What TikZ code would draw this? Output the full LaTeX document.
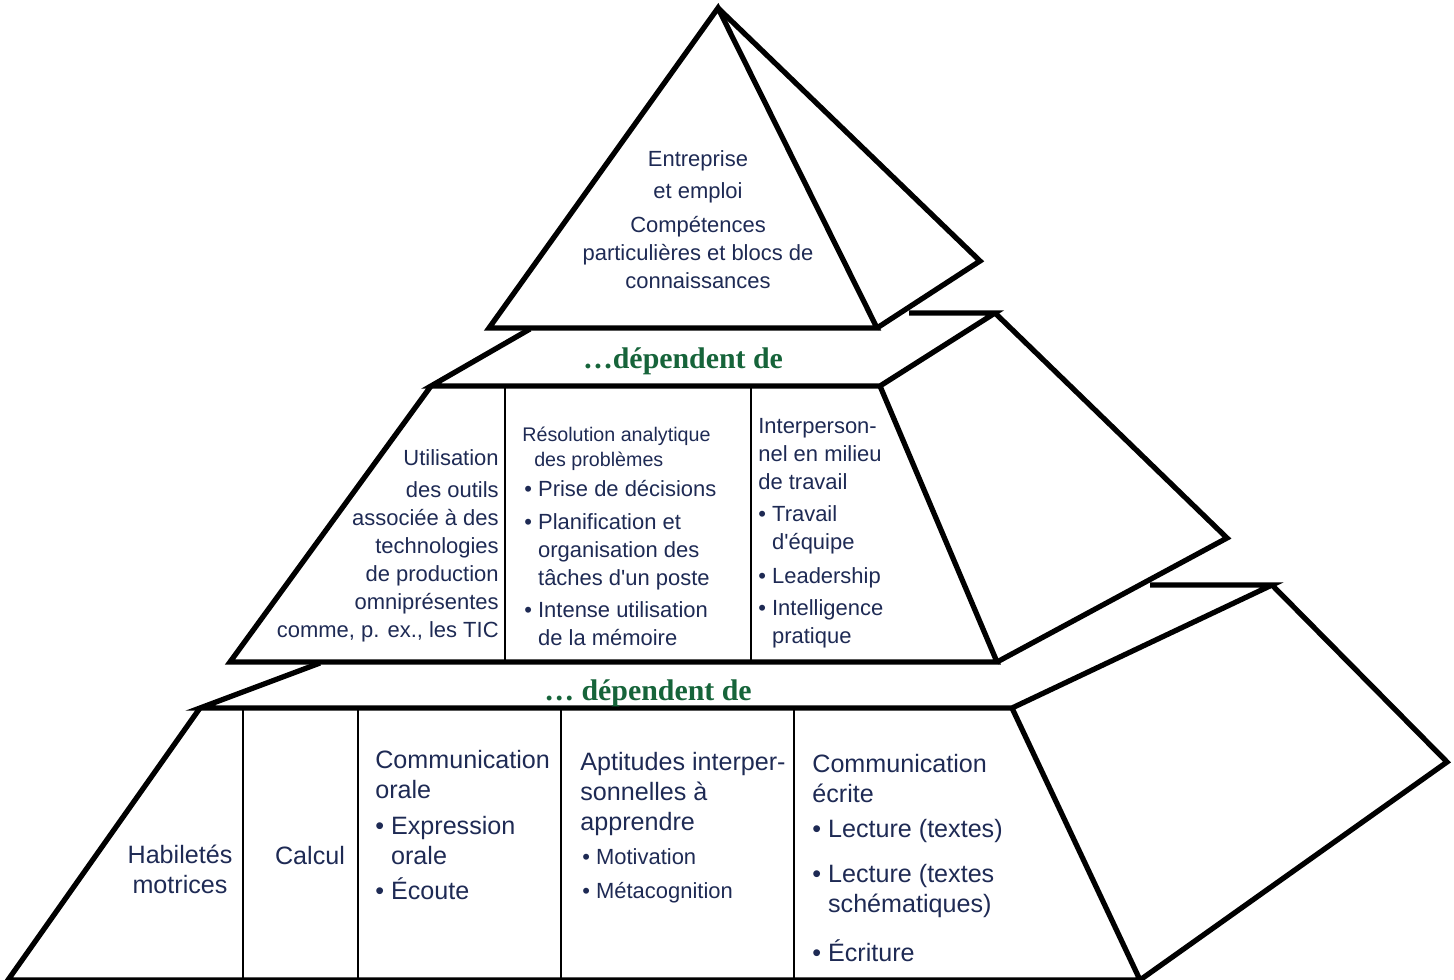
\documentclass[tikz,border=0pt]{standalone}
\usepackage{fontspec}
\setmainfont{Liberation Sans}
\newfontfamily\seriflien{Liberation Serif}
\usepackage{xcolor}
\usepackage{tikz}

\definecolor{encre}{RGB}{30,42,84}
\definecolor{vertlien}{RGB}{22,100,58}

\newcommand{\puce}{\textbullet\ }
\newcommand{\retrait}{\phantom{\textbullet\ }}
\newcommand{\apos}{\textquotesingle}

\tikzset{
	arete/.style={line width=3pt, line join=miter},
	cloison/.style={line width=0.9pt},
	texte/.style={text=encre, inner sep=0pt, font=\fontsize{12.5}{15.9}\selectfont},
	grand/.style={text=encre, inner sep=0pt, font=\fontsize{14.3}{17}\selectfont},
	petit/.style={text=encre, inner sep=0pt, font=\fontsize{11.2}{14.2}\selectfont},
	lien/.style={text=vertlien, inner sep=0pt, font=\seriflien\bfseries\fontsize{17}{20}\selectfont},
}

\begin{document}
\begin{tikzpicture}[x=0.02cm, y=-0.02cm]
	\path[use as bounding box, clip] (0,0) rectangle (1454,980);

	% sommet
	\begin{scope}[arete]
		\draw (718,8) -- (489,328) -- (877,328) -- cycle;
		\draw (718,8) -- (980,261) -- (877,328);
	\end{scope}

	% etage du milieu
	\begin{scope}[arete]
		\draw (530,329) -- (431,386) -- (880,386) -- (995,313) -- (909,313);
		\draw (431,386) -- (230,662) -- (997,662) -- (880,386);
		\draw (995,313) -- (1227,538) -- (997,662);
	\end{scope}
	\begin{scope}[cloison]
		\foreach \x in {505,751}
		{
			\draw (\x,386) -- (\x,662);
		}
	\end{scope}

	% base
	\begin{scope}[arete]
		\draw (320,663) -- (200,708) -- (1012,708) -- (1272,585) -- (1150,585);
		\draw (200,708) -- (8,980) -- (1140,980) -- (1012,708);
		\draw (1272,585) -- (1447,762) -- (1140,980);
	\end{scope}
	\begin{scope}[cloison]
		\foreach \x in {243,358,561,794}
		{
			\draw (\x,708) -- (\x,980);
		}
	\end{scope}

	% textes du sommet (ancre : ligne du bas)
	\node[texte, align=center, anchor=base] (entreprise) at (698,288)
		{Entreprise\\[2.3pt] et emploi\\[3.4pt] Compétences\\ particulières et blocs de\\ connaissances};

	\node[lien, anchor=base] (lienhaut) at (683,368) {\ldots dépendent de};

	% textes du milieu
	\node[texte, align=right, anchor=base east] (outils) at (499,637)
		{Utilisation\\[2.3pt] des outils\\ associée à des\\ technologies\\ de production\\ omniprésentes\\ comme, p. ex., les TIC};
	\node[petit, align=left, anchor=base west] (resolution) at (522,466)
		{Résolution analytique\\ \hspace{6.8pt}des problèmes};
	\node[texte, align=left, anchor=base west] (taches) at (524,645)
		{\puce Prise de décisions\\[2.8pt] \puce Planification et\\ \retrait organisation des\\ \retrait tâches d\apos un poste\\[2.3pt] \puce Intense utilisation\\ \retrait de la mémoire};
	\node[texte, align=left, anchor=base west] (interpersonnel) at (758,643)
		{Interperson-\\ nel en milieu\\ de travail\\[2.3pt] \puce Travail\\ \retrait d\apos équipe\\[3.4pt] \puce Leadership\\[2.3pt] \puce Intelligence\\ \retrait pratique};

	\node[lien, anchor=base] (lienbas) at (648,700) {\ldots\ dépendent de};

	% textes de la base
	\node[grand, align=center, anchor=base] (motrices) at (180,893) {Habiletés\\ motrices};
	\node[grand, anchor=base] (calcul) at (310,864) {Calcul};
	\node[grand, align=left, anchor=base west] (orale) at (375,899)
		{Communication\\ orale\\[3.4pt] \puce Expression\\ \retrait orale\\[2.8pt] \puce Écoute};
	\node[grand, align=left, anchor=base west] (aptitudes) at (580,830)
		{Aptitudes interper-\\ sonnelles à\\ apprendre};
	\node[texte, align=left, anchor=base west] (apprendre) at (582,898)
		{\puce Motivation\\[3.4pt] \puce Métacognition};
	\node[grand, align=left, anchor=base west] (ecrite) at (812,961)
		{Communication\\ écrite\\[2.8pt] \puce Lecture (textes)\\[8.5pt] \puce Lecture (textes\\ \retrait schématiques)\\[10.8pt] \puce Écriture};
\end{tikzpicture}
\end{document}
